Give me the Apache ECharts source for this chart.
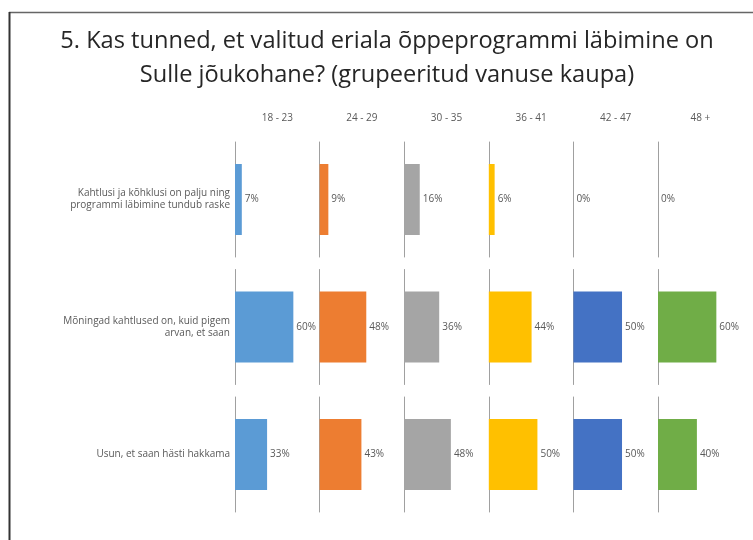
<!DOCTYPE html>
<html>
<head>
<meta charset="utf-8">
<script src="https://cdn.jsdelivr.net/npm/echarts@6/dist/echarts.min.js"></script>
<style>
  html, body { margin: 0; padding: 0; background: #fff; }
  #chart { width: 753px; height: 540px; }
</style>
</head>
<body>
<div id="chart"></div>
<script>
// vanuserühmad (paneelid)
const ageGroups = ['18 - 23', '24 - 29', '30 - 35', '36 - 41', '42 - 47', '48 +'];
// vastusevariandid
const answers = [
  'Kahtlusi ja kõhklusi on palju ning\nprogrammi läbimine tundub raske',
  'Mõningad kahtlused on, kuid pigem\narvan, et saan',
  'Usun, et saan hästi hakkama'
];
// protsendid iga vanuserühma kohta (järjekord nagu answers)
const pct18_23 = [7, 60, 33];
const pct24_29 = [9, 48, 43];
const pct30_35 = [16, 36, 48];
const pct36_41 = [6, 44, 50];
const pct42_47 = [0, 50, 50];
const pct48plus = [0, 60, 40];
const groupValues = [pct18_23, pct24_29, pct30_35, pct36_41, pct42_47, pct48plus];

const groupColors = ['#5B9BD5', '#ED7D31', '#A5A5A5', '#FFC000', '#4472C4', '#70AD47'];

const chart = echarts.init(document.getElementById('chart'));

const panelLeft = 235;
const panelWidth = 84.6;
const rowTop = 142;
const rowPitch = 127.5;
const rowHeight = 115;
const textGray = '#595959';

const grid = [];
const xAxis = [];
const yAxis = [];
const series = [];

ageGroups.forEach((group, g) => {
  answers.forEach((answer, r) => {
    const idx = g * answers.length + r;
    grid.push({
      left: panelLeft + g * panelWidth,
      width: panelWidth,
      top: rowTop + r * rowPitch,
      height: rowHeight
    });
    xAxis.push({
      gridIndex: idx,
      type: 'value',
      min: 0,
      max: 87,
      show: r === 0,
      position: 'top',
      name: r === 0 ? group : '',
      nameLocation: 'middle',
      nameGap: 19,
      nameTextStyle: { color: textGray, fontSize: 10, fontFamily: 'Open Sans' },
      axisLine: { show: false },
      axisTick: { show: false },
      axisLabel: { show: false },
      splitLine: { show: false }
    });
    yAxis.push({
      gridIndex: idx,
      type: 'category',
      data: [answer],
      axisLine: { show: true, lineStyle: { color: '#a0a0a0', width: 1 } },
      axisTick: { show: false },
      axisLabel: {
        show: g === 0,
        color: textGray,
        fontSize: 10,
        lineHeight: 12,
        fontFamily: 'Open Sans',
        margin: 5,
        align: 'right'
      }
    });
    series.push({
      type: 'bar',
      xAxisIndex: idx,
      yAxisIndex: idx,
      data: [groupValues[g][r]],
      barWidth: 71,
      itemStyle: { color: groupColors[g] },
      label: {
        show: true,
        position: 'right',
        distance: 3,
        formatter: '{c}%',
        color: textGray,
        fontSize: 10,
        fontFamily: 'Open Sans'
      },
      silent: true
    });
  });
});

const option = {
  animation: false,
  title: {
    text: '5. Kas tunned, et valitud eriala õppeprogrammi läbimine on\nSulle jõukohane? (grupeeritud vanuse kaupa)',
    left: 387,
    textAlign: 'center',
    top: 24,
    padding: 0,
    textStyle: {
      fontFamily: 'Open Sans',
      fontSize: 23.6,
      fontWeight: 'normal',
      lineHeight: 34,
      color: '#262626'
    }
  },
  graphic: [
    { type: 'line', shape: { x1: 9, y1: 12.5, x2: 753, y2: 12.5 }, style: { stroke: '#666', lineWidth: 1.5 } },
    { type: 'line', shape: { x1: 9.5, y1: 12, x2: 9.5, y2: 540 }, style: { stroke: '#333', lineWidth: 2 } }
  ],
  grid,
  xAxis,
  yAxis,
  series
};

chart.setOption(option);
</script>
</body>
</html>
